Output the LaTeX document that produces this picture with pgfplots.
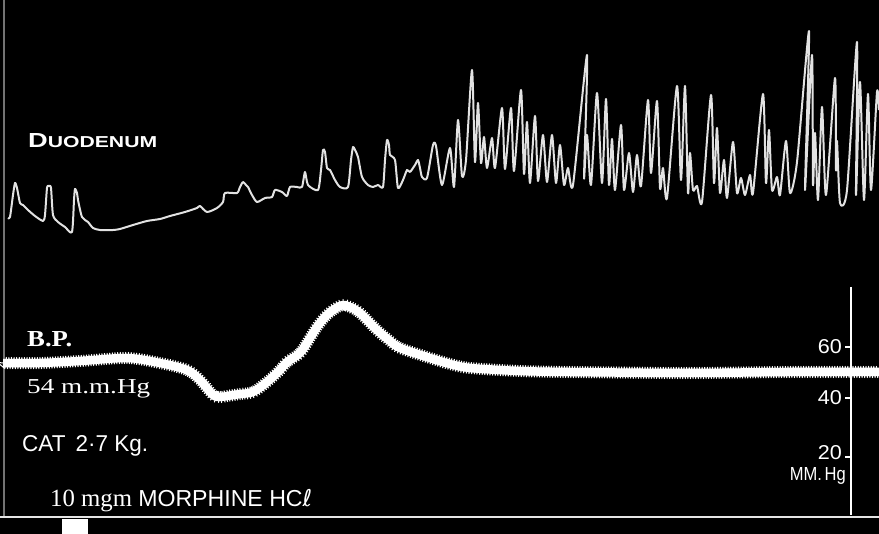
\documentclass[border=0pt]{standalone}
\usepackage{pgfplots}
\pgfplotsset{compat=1.18}
\usepackage{graphicx}
\usepackage{fontspec}
\setmainfont{Liberation Serif}
\newfontfamily\sansf{Liberation Sans}
\newfontfamily\djv{DejaVu Sans}
\usetikzlibrary{decorations.pathmorphing}
\definecolor{trace}{RGB}{226,226,226}
\begin{document}
\begin{tikzpicture}
\begin{axis}[
  scale only axis, width=879pt, height=534pt,
  xmin=0, xmax=879, ymin=0, ymax=534, y dir=reverse,
  axis background/.style={fill=black},
  axis line style={draw=none}, xtick=\empty, ytick=\empty,
  clip=true,
]
% left edge line
\addplot[white!45!black, line width=1.3pt] coordinates {(4,0) (4,517)};
% bottom signal line
\addplot[white!90!black, line width=1.8pt] coordinates {(0,517) (879,517)};
\addplot[white, fill=white, draw=none] coordinates {(62,519) (88,519) (88,534) (62,534)} -- cycle;
% duodenum trace
\addplot[trace, line width=2pt, line join=round, smooth, tension=0.4] coordinates {
(8,218) (10,217) (13,195) (15,183) (17,188) (20,203) (23,205) (28,210) (35,216) (43,221)
(45,215) (47,188) (49,186) (51,188) (53,215) (58,222) (65,227) (72,232) (74,200) (75,189)
(77,193) (78,200) (82,217) (88,222) (93,228) (100,230) (113,230) (120,229) (133,225) (147,221)
(160,219) (170,216) (185,212) (197,208) (200,206) (207,212) (217,208) (223,202) (225,193) (237,193)
(240,187) (243,182) (246,185) (248,187) (252,195) (257,202) (265,198) (272,197) (275,190) (282,192)
(287,196) (290,187) (297,187) (302,187) (305,172) (308,185) (318,190) (321,170) (323,150) (325,152)
(327,168) (330,170) (335,180) (340,187) (348,187) (351,160) (353,147) (355,150) (358,157) (362,177)
(368,185) (373,187) (378,185) (383,187) (385,160) (387,140) (389,145) (390,155) (395,160) (398,188)
(403,180) (407,170) (410,172) (415,165) (418,160) (420,168) (422,177) (427,178)
(433,145) (436,146) (442,185) (450,148) (454,187) (458,120) (462,176) (466,160)
(472,70) (475,162) (478,103) (481,163) (484,137) (487,168) (492,138) (495,168)
(502,108) (505,169) (511,108) (514,171) (521,90) (524,174) (527,122) (530,183)
(535,116) (538,181) (543,135) (547,182) (552,135) (556,183) (560,145) (564,185)
(568,168) (573,185) (587,55) (584,178) (587,135) (591,185) (597,93) (602,183)
(606,99) (609,185) (612,139) (615,190) (621,125) (624,190) (629,153) (633,192)
(637,155) (641,186) (648,100) (651,173) (657,101) (660,188) (663,168) (667,198)
(677,86) (681,180) (685,86) (688,193) (690,153) (693,190) (697,186) (702,202)
(711,95) (714,183) (717,128) (720,193) (724,160) (727,198) (733,142) (737,193)
(741,178) (745,195) (750,175) (753,193) (763,94) (766,183) (769,130) (772,190)
(777,177) (780,195) (786,141) (790,193) (797,162) (809,31) (805,190) (812,55)
(813,185) (815,133) (818,200) (822,107) (826,195) (835,78) (836,170) (837,141)
(840,203) (847,190) (857,42) (856,195) (860,82) (864,200) (868,94) (871,190)
(877,92) (879,110)
};
% blood pressure trace
\addplot[white, line width=8.5pt, line join=round, smooth, tension=0.5,
  postaction={draw=white, line width=1pt, decorate,
  decoration={zigzag, segment length=2.6pt, amplitude=5.6pt}}] coordinates {
(3,363) (40,363) (80,361) (127,358) (160,363) (187,370) (200,380) (213,395) (220,397) (227,396)
(240,394) (253,392) (267,382) (280,370) (287,362) (300,353) (310,338) (317,327) (325,317) (333,310)
(343,305) (352,308) (360,313) (377,330) (390,341) (400,348) (430,358) (450,364) (470,368) (520,371)
(570,372) (687,373) (787,372) (879,372)
};
% pressure scale
\addplot[white, line width=1.6pt] coordinates {(851,287) (851,515)};
\addplot[white, line width=1.4pt] coordinates {(845,347) (851,347)};
\addplot[white, line width=1.4pt] coordinates {(845,398) (851,398)};
\addplot[white, line width=1.4pt] coordinates {(845,457) (851,457)};
% labels
\node[anchor=base west, text=white, inner sep=0pt] at (axis cs:28,148)
  {\resizebox{129pt}{14pt}{\sansf\bfseries{\fontsize{18}{18}\selectfont D}{\fontsize{14}{14}\selectfont UODENUM}}};
\node[anchor=base west, text=white, inner sep=0pt] at (axis cs:27,347)
  {\resizebox{45pt}{15pt}{\bfseries B.P.}};
\node[anchor=base west, text=white, inner sep=0pt] at (axis cs:27,394)
  {\resizebox{123pt}{14pt}{54 m.m.Hg}};
\node[anchor=base west, text=white, inner sep=0pt] at (axis cs:22,452)
  {\resizebox{126pt}{16pt}{\sansf CAT\, 2·7 Kg.}};
\node[anchor=base west, text=white, inner sep=0pt] at (axis cs:50,507)
  {\resizebox{262pt}{!}{\fontsize{15}{15}\selectfont 10 mgm\ \sansf\fontsize{14}{14}\selectfont MORPHINE HC{\djv ℓ}}};
\node[anchor=base east, text=white, inner sep=0pt] at (axis cs:842,354)
  {\resizebox{24pt}{14pt}{\sansf 60}};
\node[anchor=base east, text=white, inner sep=0pt] at (axis cs:842,405)
  {\resizebox{24pt}{14pt}{\sansf 40}};
\node[anchor=base east, text=white, inner sep=0pt] at (axis cs:842,460)
  {\resizebox{24pt}{14pt}{\sansf 20}};
\node[anchor=base east, text=white, inner sep=0pt] at (axis cs:846,481)
  {\resizebox{56pt}{13pt}{\sansf MM.\,Hg}};
\end{axis}
\end{tikzpicture}
\end{document}
